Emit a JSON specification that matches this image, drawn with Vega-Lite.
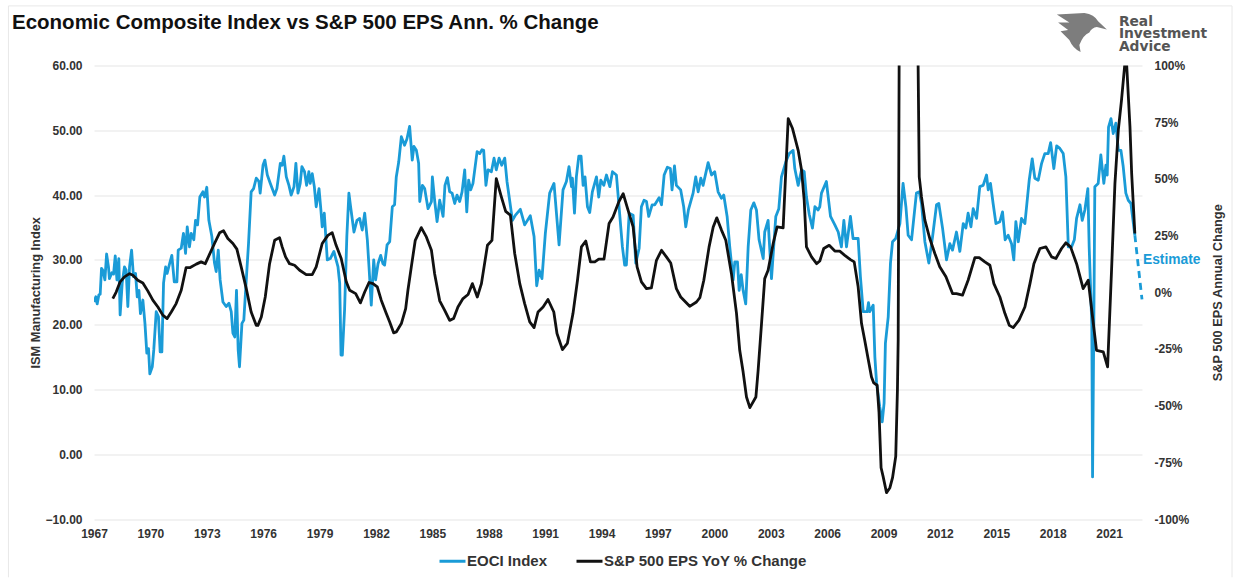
{"$schema":"https://vega.github.io/schema/vega-lite/v6.json","width":1048,"height":453.5,"autosize":{"type":"none"},"padding":{"left":94,"top":65.5,"right":98,"bottom":59},"background":"white","config":{"view":{"stroke":null},"font":"Liberation Sans"},
"title":{"text":"Economic Composite Index vs S&P 500 EPS Ann. % Change","anchor":"start","frame":"group","dx":-82,"offset":-28,"fontSize":20.5,"fontWeight":"bold","font":"Liberation Sans","color":"#111111"},
"datasets":{
"eoci":[{"year":1967.0,"value":23.5},{"year":1967.1,"value":24.3},{"year":1967.17,"value":23.2},{"year":1967.26,"value":24.6},{"year":1967.33,"value":24.7},{"year":1967.4,"value":28.7},{"year":1967.47,"value":28.4},{"year":1967.58,"value":26.9},{"year":1967.67,"value":30.9},{"year":1967.77,"value":28.9},{"year":1967.82,"value":27.1},{"year":1967.95,"value":28.0},{"year":1968.04,"value":27.8},{"year":1968.13,"value":30.6},{"year":1968.22,"value":26.9},{"year":1968.32,"value":30.2},{"year":1968.39,"value":21.5},{"year":1968.5,"value":26.4},{"year":1968.62,"value":28.9},{"year":1968.71,"value":28.4},{"year":1968.8,"value":22.8},{"year":1968.89,"value":28.9},{"year":1969.0,"value":31.5},{"year":1969.1,"value":27.4},{"year":1969.21,"value":27.9},{"year":1969.3,"value":24.3},{"year":1969.39,"value":25.3},{"year":1969.47,"value":21.7},{"year":1969.6,"value":23.8},{"year":1969.71,"value":20.2},{"year":1969.81,"value":15.6},{"year":1969.9,"value":16.3},{"year":1969.97,"value":12.4},{"year":1970.1,"value":13.5},{"year":1970.18,"value":16.1},{"year":1970.31,"value":22.0},{"year":1970.43,"value":21.2},{"year":1970.52,"value":15.8},{"year":1970.61,"value":15.8},{"year":1970.7,"value":26.4},{"year":1970.81,"value":28.9},{"year":1970.89,"value":27.9},{"year":1971.02,"value":29.4},{"year":1971.14,"value":30.7},{"year":1971.27,"value":26.6},{"year":1971.41,"value":26.6},{"year":1971.48,"value":31.5},{"year":1971.64,"value":31.8},{"year":1971.76,"value":34.1},{"year":1971.87,"value":31.0},{"year":1971.96,"value":35.1},{"year":1972.08,"value":32.0},{"year":1972.17,"value":34.1},{"year":1972.31,"value":33.1},{"year":1972.4,"value":36.1},{"year":1972.51,"value":35.4},{"year":1972.63,"value":39.7},{"year":1972.79,"value":40.5},{"year":1972.88,"value":39.7},{"year":1973.0,"value":41.2},{"year":1973.11,"value":36.1},{"year":1973.27,"value":33.6},{"year":1973.41,"value":29.5},{"year":1973.5,"value":28.2},{"year":1973.61,"value":31.5},{"year":1973.71,"value":26.9},{"year":1973.86,"value":23.5},{"year":1974.03,"value":22.8},{"year":1974.18,"value":23.3},{"year":1974.3,"value":22.0},{"year":1974.39,"value":18.7},{"year":1974.49,"value":18.1},{"year":1974.58,"value":25.3},{"year":1974.67,"value":16.1},{"year":1974.74,"value":13.5},{"year":1974.87,"value":20.2},{"year":1974.97,"value":20.7},{"year":1975.1,"value":26.9},{"year":1975.22,"value":32.5},{"year":1975.36,"value":40.5},{"year":1975.49,"value":41.0},{"year":1975.63,"value":42.6},{"year":1975.77,"value":42.1},{"year":1975.84,"value":40.3},{"year":1975.99,"value":44.6},{"year":1976.09,"value":45.4},{"year":1976.22,"value":43.1},{"year":1976.38,"value":41.8},{"year":1976.61,"value":40.0},{"year":1976.73,"value":41.0},{"year":1976.91,"value":44.9},{"year":1977.01,"value":44.6},{"year":1977.1,"value":46.0},{"year":1977.23,"value":42.8},{"year":1977.37,"value":41.5},{"year":1977.49,"value":40.0},{"year":1977.64,"value":41.3},{"year":1977.74,"value":44.9},{"year":1977.85,"value":40.3},{"year":1977.97,"value":41.8},{"year":1978.06,"value":44.4},{"year":1978.2,"value":43.6},{"year":1978.31,"value":41.5},{"year":1978.43,"value":43.6},{"year":1978.5,"value":41.8},{"year":1978.61,"value":43.3},{"year":1978.72,"value":41.3},{"year":1978.82,"value":38.2},{"year":1978.97,"value":41.0},{"year":1979.07,"value":37.7},{"year":1979.14,"value":35.1},{"year":1979.25,"value":37.2},{"year":1979.41,"value":30.0},{"year":1979.57,"value":30.2},{"year":1979.76,"value":31.3},{"year":1979.98,"value":28.9},{"year":1980.07,"value":26.4},{"year":1980.14,"value":15.3},{"year":1980.21,"value":15.3},{"year":1980.33,"value":22.3},{"year":1980.45,"value":33.6},{"year":1980.56,"value":40.3},{"year":1980.65,"value":38.2},{"year":1980.83,"value":34.3},{"year":1980.99,"value":36.1},{"year":1981.13,"value":36.4},{"year":1981.27,"value":34.6},{"year":1981.4,"value":37.2},{"year":1981.54,"value":33.1},{"year":1981.63,"value":28.9},{"year":1981.75,"value":23.0},{"year":1981.88,"value":30.0},{"year":1981.98,"value":26.9},{"year":1982.11,"value":29.4},{"year":1982.25,"value":30.7},{"year":1982.37,"value":29.4},{"year":1982.46,"value":29.2},{"year":1982.59,"value":32.3},{"year":1982.73,"value":32.8},{"year":1982.87,"value":38.2},{"year":1982.99,"value":38.5},{"year":1983.08,"value":42.8},{"year":1983.21,"value":45.1},{"year":1983.35,"value":49.0},{"year":1983.52,"value":47.7},{"year":1983.65,"value":48.7},{"year":1983.79,"value":50.6},{"year":1983.93,"value":45.4},{"year":1984.02,"value":47.5},{"year":1984.15,"value":46.9},{"year":1984.27,"value":44.9},{"year":1984.33,"value":39.0},{"year":1984.47,"value":41.5},{"year":1984.59,"value":41.0},{"year":1984.77,"value":37.9},{"year":1984.95,"value":39.0},{"year":1985.0,"value":42.8},{"year":1985.12,"value":39.2},{"year":1985.25,"value":35.9},{"year":1985.39,"value":39.2},{"year":1985.57,"value":36.7},{"year":1985.67,"value":41.5},{"year":1985.8,"value":42.7},{"year":1985.92,"value":40.5},{"year":1986.05,"value":40.3},{"year":1986.19,"value":38.7},{"year":1986.31,"value":40.0},{"year":1986.45,"value":39.0},{"year":1986.58,"value":40.5},{"year":1986.72,"value":43.9},{"year":1986.83,"value":37.4},{"year":1986.93,"value":42.3},{"year":1987.04,"value":40.8},{"year":1987.16,"value":41.8},{"year":1987.38,"value":46.7},{"year":1987.52,"value":46.4},{"year":1987.64,"value":47.0},{"year":1987.73,"value":46.9},{"year":1987.85,"value":41.5},{"year":1987.96,"value":43.9},{"year":1988.14,"value":43.6},{"year":1988.28,"value":45.7},{"year":1988.4,"value":43.9},{"year":1988.55,"value":45.7},{"year":1988.69,"value":44.6},{"year":1988.85,"value":45.7},{"year":1988.97,"value":42.1},{"year":1989.11,"value":39.2},{"year":1989.26,"value":36.1},{"year":1989.42,"value":36.9},{"year":1989.68,"value":37.8},{"year":1989.91,"value":35.4},{"year":1990.21,"value":36.8},{"year":1990.41,"value":33.6},{"year":1990.55,"value":26.0},{"year":1990.68,"value":28.4},{"year":1990.83,"value":27.1},{"year":1991.01,"value":34.1},{"year":1991.24,"value":40.3},{"year":1991.47,"value":41.8},{"year":1991.74,"value":32.3},{"year":1991.95,"value":40.8},{"year":1992.13,"value":42.1},{"year":1992.27,"value":44.4},{"year":1992.4,"value":41.3},{"year":1992.45,"value":42.6},{"year":1992.56,"value":37.2},{"year":1992.66,"value":42.8},{"year":1992.79,"value":46.0},{"year":1992.91,"value":46.0},{"year":1993.02,"value":41.5},{"year":1993.12,"value":42.8},{"year":1993.25,"value":38.2},{"year":1993.37,"value":37.3},{"year":1993.51,"value":40.5},{"year":1993.73,"value":42.8},{"year":1993.85,"value":39.7},{"year":1993.96,"value":42.3},{"year":1994.12,"value":41.5},{"year":1994.26,"value":43.1},{"year":1994.44,"value":41.3},{"year":1994.58,"value":43.6},{"year":1994.79,"value":43.1},{"year":1994.88,"value":40.0},{"year":1995.11,"value":32.0},{"year":1995.23,"value":29.2},{"year":1995.32,"value":29.2},{"year":1995.47,"value":37.2},{"year":1995.68,"value":36.9},{"year":1995.82,"value":29.5},{"year":1996.0,"value":31.8},{"year":1996.12,"value":38.2},{"year":1996.26,"value":39.2},{"year":1996.39,"value":39.0},{"year":1996.51,"value":36.7},{"year":1996.69,"value":38.5},{"year":1996.83,"value":38.5},{"year":1997.06,"value":39.6},{"year":1997.19,"value":38.5},{"year":1997.33,"value":43.1},{"year":1997.5,"value":44.3},{"year":1997.66,"value":44.1},{"year":1997.75,"value":40.8},{"year":1997.88,"value":44.5},{"year":1997.98,"value":41.5},{"year":1998.21,"value":40.8},{"year":1998.37,"value":38.2},{"year":1998.48,"value":35.1},{"year":1998.62,"value":37.7},{"year":1998.87,"value":40.3},{"year":1999.01,"value":42.8},{"year":1999.14,"value":40.5},{"year":1999.28,"value":42.6},{"year":1999.4,"value":41.5},{"year":1999.67,"value":45.0},{"year":1999.85,"value":43.1},{"year":2000.02,"value":43.6},{"year":2000.2,"value":40.5},{"year":2000.38,"value":39.5},{"year":2000.5,"value":40.0},{"year":2000.68,"value":36.7},{"year":2000.82,"value":32.0},{"year":2001.0,"value":26.9},{"year":2001.09,"value":29.7},{"year":2001.23,"value":29.7},{"year":2001.32,"value":25.3},{"year":2001.43,"value":27.7},{"year":2001.53,"value":25.3},{"year":2001.67,"value":23.2},{"year":2001.8,"value":32.0},{"year":2001.94,"value":37.7},{"year":2002.1,"value":38.8},{"year":2002.24,"value":37.7},{"year":2002.38,"value":33.1},{"year":2002.6,"value":30.2},{"year":2002.68,"value":34.3},{"year":2002.86,"value":36.1},{"year":2003.04,"value":27.1},{"year":2003.27,"value":36.7},{"year":2003.43,"value":37.9},{"year":2003.57,"value":42.8},{"year":2003.8,"value":45.1},{"year":2003.98,"value":46.4},{"year":2004.19,"value":46.9},{"year":2004.28,"value":44.1},{"year":2004.46,"value":41.5},{"year":2004.64,"value":43.9},{"year":2004.78,"value":43.6},{"year":2004.9,"value":39.7},{"year":2005.05,"value":37.0},{"year":2005.22,"value":34.9},{"year":2005.35,"value":38.2},{"year":2005.52,"value":37.7},{"year":2005.61,"value":38.2},{"year":2005.7,"value":40.3},{"year":2005.96,"value":42.1},{"year":2006.18,"value":36.7},{"year":2006.41,"value":35.4},{"year":2006.59,"value":34.3},{"year":2006.76,"value":32.0},{"year":2006.89,"value":36.1},{"year":2007.03,"value":32.0},{"year":2007.24,"value":36.7},{"year":2007.38,"value":33.3},{"year":2007.65,"value":33.3},{"year":2007.77,"value":27.4},{"year":2007.92,"value":22.0},{"year":2008.13,"value":22.0},{"year":2008.2,"value":23.4},{"year":2008.27,"value":22.0},{"year":2008.45,"value":23.0},{"year":2008.54,"value":15.0},{"year":2008.63,"value":11.0},{"year":2008.8,"value":7.3},{"year":2008.93,"value":5.0},{"year":2009.03,"value":7.9},{"year":2009.1,"value":17.1},{"year":2009.25,"value":21.2},{"year":2009.37,"value":29.5},{"year":2009.48,"value":32.8},{"year":2009.65,"value":33.3},{"year":2009.87,"value":35.6},{"year":2010.04,"value":41.8},{"year":2010.19,"value":38.2},{"year":2010.31,"value":33.8},{"year":2010.49,"value":33.1},{"year":2010.75,"value":40.3},{"year":2010.9,"value":40.5},{"year":2011.02,"value":38.7},{"year":2011.2,"value":32.8},{"year":2011.41,"value":29.5},{"year":2011.61,"value":33.6},{"year":2011.82,"value":38.5},{"year":2011.94,"value":38.7},{"year":2012.14,"value":34.9},{"year":2012.35,"value":30.0},{"year":2012.53,"value":32.5},{"year":2012.67,"value":31.5},{"year":2012.88,"value":34.3},{"year":2013.06,"value":31.3},{"year":2013.24,"value":35.6},{"year":2013.38,"value":34.9},{"year":2013.5,"value":37.2},{"year":2013.65,"value":35.1},{"year":2013.77,"value":37.9},{"year":2013.95,"value":36.4},{"year":2014.12,"value":41.3},{"year":2014.3,"value":41.5},{"year":2014.48,"value":43.1},{"year":2014.57,"value":40.8},{"year":2014.69,"value":41.8},{"year":2014.83,"value":38.7},{"year":2014.98,"value":35.6},{"year":2015.19,"value":35.9},{"year":2015.33,"value":37.4},{"year":2015.47,"value":33.1},{"year":2015.63,"value":33.8},{"year":2015.81,"value":32.5},{"year":2015.93,"value":30.0},{"year":2016.04,"value":35.9},{"year":2016.17,"value":32.8},{"year":2016.34,"value":36.4},{"year":2016.52,"value":35.6},{"year":2016.75,"value":42.3},{"year":2016.91,"value":45.6},{"year":2017.05,"value":42.6},{"year":2017.23,"value":42.3},{"year":2017.41,"value":44.9},{"year":2017.58,"value":46.4},{"year":2017.76,"value":46.4},{"year":2017.89,"value":48.1},{"year":2018.06,"value":44.1},{"year":2018.21,"value":47.6},{"year":2018.38,"value":47.2},{"year":2018.56,"value":46.4},{"year":2018.7,"value":42.8},{"year":2018.83,"value":32.0},{"year":2019.0,"value":32.0},{"year":2019.15,"value":33.1},{"year":2019.27,"value":36.4},{"year":2019.45,"value":38.5},{"year":2019.57,"value":36.1},{"year":2019.71,"value":37.7},{"year":2019.87,"value":41.0},{"year":2019.94,"value":32.0},{"year":2020.08,"value":20.0},{"year":2020.12,"value":-3.5},{"year":2020.2,"value":25.0},{"year":2020.24,"value":41.3},{"year":2020.42,"value":41.8},{"year":2020.56,"value":46.2},{"year":2020.72,"value":41.8},{"year":2020.83,"value":44.6},{"year":2020.9,"value":43.1},{"year":2020.97,"value":50.5},{"year":2021.1,"value":51.8},{"year":2021.22,"value":49.5},{"year":2021.36,"value":51.1},{"year":2021.49,"value":46.9},{"year":2021.63,"value":46.9},{"year":2021.75,"value":44.4},{"year":2021.89,"value":40.3},{"year":2022.02,"value":39.2},{"year":2022.16,"value":38.7},{"year":2022.37,"value":33.8}],
"eps":[{"year":1968.0,"pct":-2.8},{"year":1968.18,"pct":0.1},{"year":1968.39,"pct":4.6},{"year":1968.62,"pct":6.8},{"year":1968.89,"pct":8.2},{"year":1969.07,"pct":7.5},{"year":1969.33,"pct":5.3},{"year":1969.6,"pct":4.1},{"year":1969.86,"pct":0.6},{"year":1970.13,"pct":-3.5},{"year":1970.4,"pct":-6.5},{"year":1970.66,"pct":-10.1},{"year":1970.89,"pct":-11.6},{"year":1971.11,"pct":-8.7},{"year":1971.37,"pct":-5.0},{"year":1971.64,"pct":0.9},{"year":1971.9,"pct":10.9},{"year":1972.12,"pct":10.9},{"year":1972.44,"pct":12.4},{"year":1972.7,"pct":13.4},{"year":1972.92,"pct":12.6},{"year":1973.15,"pct":16.8},{"year":1973.41,"pct":21.5},{"year":1973.68,"pct":26.2},{"year":1973.89,"pct":27.1},{"year":1974.12,"pct":23.7},{"year":1974.39,"pct":21.5},{"year":1974.6,"pct":19.0},{"year":1974.83,"pct":11.2},{"year":1975.1,"pct":1.6},{"year":1975.36,"pct":-8.7},{"year":1975.63,"pct":-14.6},{"year":1975.72,"pct":-14.6},{"year":1975.9,"pct":-10.9},{"year":1976.11,"pct":-2.1},{"year":1976.34,"pct":12.6},{"year":1976.61,"pct":22.9},{"year":1976.87,"pct":24.1},{"year":1977.01,"pct":20.0},{"year":1977.19,"pct":15.6},{"year":1977.4,"pct":12.6},{"year":1977.67,"pct":11.9},{"year":1977.94,"pct":9.7},{"year":1978.29,"pct":7.8},{"year":1978.61,"pct":7.8},{"year":1978.82,"pct":11.2},{"year":1979.14,"pct":21.5},{"year":1979.44,"pct":25.1},{"year":1979.67,"pct":26.3},{"year":1979.88,"pct":20.7},{"year":1980.15,"pct":14.9},{"year":1980.42,"pct":4.6},{"year":1980.6,"pct":0.9},{"year":1980.92,"pct":-0.6},{"year":1981.17,"pct":-4.7},{"year":1981.4,"pct":0.1},{"year":1981.63,"pct":4.3},{"year":1981.84,"pct":3.8},{"year":1982.07,"pct":2.4},{"year":1982.28,"pct":-3.5},{"year":1982.55,"pct":-9.4},{"year":1982.73,"pct":-13.1},{"year":1982.94,"pct":-17.9},{"year":1983.08,"pct":-17.5},{"year":1983.35,"pct":-13.8},{"year":1983.58,"pct":-7.2},{"year":1983.7,"pct":0.9},{"year":1983.88,"pct":11.2},{"year":1984.09,"pct":22.9},{"year":1984.41,"pct":28.5},{"year":1984.68,"pct":24.4},{"year":1984.95,"pct":18.5},{"year":1985.12,"pct":8.2},{"year":1985.39,"pct":-3.8},{"year":1985.65,"pct":-7.9},{"year":1985.92,"pct":-12.4},{"year":1986.13,"pct":-11.6},{"year":1986.36,"pct":-6.5},{"year":1986.63,"pct":-2.8},{"year":1986.9,"pct":-1.0},{"year":1987.13,"pct":3.8},{"year":1987.39,"pct":-2.1},{"year":1987.61,"pct":3.8},{"year":1987.93,"pct":20.7},{"year":1988.17,"pct":22.9},{"year":1988.4,"pct":50.1},{"year":1988.67,"pct":42.1},{"year":1988.9,"pct":35.7},{"year":1989.15,"pct":34.0},{"year":1989.38,"pct":17.1},{"year":1989.65,"pct":3.8},{"year":1989.91,"pct":-5.0},{"year":1990.18,"pct":-13.1},{"year":1990.41,"pct":-15.6},{"year":1990.62,"pct":-8.7},{"year":1990.89,"pct":-6.5},{"year":1991.15,"pct":-3.2},{"year":1991.46,"pct":-8.7},{"year":1991.63,"pct":-18.2},{"year":1991.92,"pct":-25.3},{"year":1992.18,"pct":-22.6},{"year":1992.48,"pct":-9.4},{"year":1992.72,"pct":5.3},{"year":1992.93,"pct":20.0},{"year":1993.16,"pct":22.6},{"year":1993.41,"pct":13.4},{"year":1993.64,"pct":13.4},{"year":1993.85,"pct":14.6},{"year":1994.13,"pct":14.6},{"year":1994.4,"pct":30.3},{"year":1994.61,"pct":33.2},{"year":1994.92,"pct":39.9},{"year":1995.15,"pct":43.5},{"year":1995.41,"pct":36.2},{"year":1995.68,"pct":28.8},{"year":1995.89,"pct":11.2},{"year":1996.12,"pct":4.6},{"year":1996.39,"pct":1.6},{"year":1996.65,"pct":1.9},{"year":1996.92,"pct":14.1},{"year":1997.19,"pct":18.5},{"year":1997.45,"pct":15.6},{"year":1997.68,"pct":12.9},{"year":1997.98,"pct":1.6},{"year":1998.21,"pct":-2.1},{"year":1998.69,"pct":-6.2},{"year":1999.05,"pct":-4.3},{"year":1999.23,"pct":-2.4},{"year":1999.44,"pct":5.3},{"year":1999.72,"pct":20.0},{"year":1999.94,"pct":28.8},{"year":2000.13,"pct":32.8},{"year":2000.38,"pct":27.4},{"year":2000.61,"pct":22.9},{"year":2000.91,"pct":8.2},{"year":2001.18,"pct":-9.4},{"year":2001.35,"pct":-25.6},{"year":2001.53,"pct":-35.1},{"year":2001.71,"pct":-46.2},{"year":2001.89,"pct":-50.9},{"year":2002.21,"pct":-46.2},{"year":2002.33,"pct":-34.4},{"year":2002.51,"pct":-13.8},{"year":2002.68,"pct":6.0},{"year":2002.86,"pct":9.7},{"year":2003.13,"pct":21.5},{"year":2003.34,"pct":28.8},{"year":2003.66,"pct":28.4},{"year":2003.93,"pct":76.6},{"year":2004.16,"pct":72.2},{"year":2004.46,"pct":62.6},{"year":2004.64,"pct":53.8},{"year":2004.78,"pct":40.6},{"year":2004.9,"pct":20.0},{"year":2005.17,"pct":15.6},{"year":2005.44,"pct":12.6},{"year":2005.61,"pct":13.8},{"year":2005.82,"pct":19.3},{"year":2006.11,"pct":20.7},{"year":2006.41,"pct":18.2},{"year":2006.67,"pct":18.1},{"year":2006.94,"pct":16.3},{"year":2007.24,"pct":14.4},{"year":2007.44,"pct":13.4},{"year":2007.65,"pct":2.4},{"year":2007.83,"pct":-13.8},{"year":2008.0,"pct":-21.2},{"year":2008.18,"pct":-29.3},{"year":2008.36,"pct":-37.4},{"year":2008.48,"pct":-40.0},{"year":2008.66,"pct":-41.0},{"year":2008.76,"pct":-53.0},{"year":2008.87,"pct":-77.4},{"year":2008.98,"pct":-81.3},{"year":2009.16,"pct":-88.4},{"year":2009.34,"pct":-86.2},{"year":2009.48,"pct":-81.8},{"year":2009.65,"pct":-72.4},{"year":2009.74,"pct":-43.0},{"year":2009.78,"pct":-21.0},{"year":2009.83,"pct":100.0},{"year":2009.95,"pct":180.0},{"year":2010.7,"pct":180.0},{"year":2010.84,"pct":100.0},{"year":2010.9,"pct":50.9},{"year":2011.02,"pct":42.0},{"year":2011.2,"pct":31.8},{"year":2011.46,"pct":23.7},{"year":2011.73,"pct":17.1},{"year":2011.99,"pct":11.2},{"year":2012.32,"pct":6.8},{"year":2012.67,"pct":-0.6},{"year":2012.88,"pct":-0.6},{"year":2013.2,"pct":-1.3},{"year":2013.5,"pct":5.3},{"year":2013.86,"pct":15.3},{"year":2014.09,"pct":15.3},{"year":2014.39,"pct":13.4},{"year":2014.66,"pct":11.9},{"year":2014.87,"pct":3.8},{"year":2015.19,"pct":-2.1},{"year":2015.46,"pct":-9.4},{"year":2015.69,"pct":-14.6},{"year":2015.9,"pct":-15.6},{"year":2016.2,"pct":-12.4},{"year":2016.52,"pct":-6.5},{"year":2016.79,"pct":3.8},{"year":2017.0,"pct":12.6},{"year":2017.32,"pct":19.3},{"year":2017.64,"pct":20.0},{"year":2017.94,"pct":15.6},{"year":2018.17,"pct":14.9},{"year":2018.47,"pct":19.3},{"year":2018.7,"pct":21.8},{"year":2018.95,"pct":20.0},{"year":2019.27,"pct":12.6},{"year":2019.62,"pct":1.6},{"year":2019.89,"pct":5.3},{"year":2020.12,"pct":-10.9},{"year":2020.33,"pct":-25.6},{"year":2020.69,"pct":-26.3},{"year":2020.92,"pct":-32.9},{"year":2021.13,"pct":9.7},{"year":2021.31,"pct":47.9},{"year":2021.49,"pct":71.5},{"year":2021.66,"pct":84.7},{"year":2021.84,"pct":101.0},{"year":2021.93,"pct":101.0},{"year":2022.11,"pct":72.9},{"year":2022.2,"pct":52.4},{"year":2022.37,"pct":25.9}],
"est":[{"year":2022.37,"value":33.8},{"year":2022.75,"value":23.9}],
"frame":[{"x":1962.45,"x2":1962.45,"y":69.2,"y2":-19},{"x":1962.45,"x2":2027.54,"y":69.2,"y2":69.2},{"x":2027.54,"x2":2027.54,"y":69.2,"y2":-19}],
"logo":[{"year":2021.52,"value":66.7,"label":"Real"},{"year":2021.52,"value":64.8,"label":"Investment"},{"year":2021.52,"value":62.9,"label":"Advice"}],
"eagle":[{"year":2019.55,"value":65.1}],
"note":[{"year":2022.8,"value":30.05,"label":"Estimate"}]
},
"layer":[
{"data":{"name":"frame"},"mark":{"type":"rule","color":"#e8e8e8","strokeWidth":1},"encoding":{"x":{"field":"x","type":"quantitative","scale":{"domain":[1967,2022.75]},"axis":{"values":[1967,1970,1973,1976,1979,1982,1985,1988,1991,1994,1997,2000,2003,2006,2009,2012,2015,2018,2021],"format":"d","title":null,"domain":false,"ticks":false,"grid":false,"labelFont":"Liberation Sans","labelFontWeight":"bold","labelFontSize":12,"labelColor":"#333333","labelPadding":9,"labelFlush":false,"labelOverlap":false}},"x2":{"field":"x2"},"y":{"field":"y","type":"quantitative","scale":{"domain":[-10,60]},"axis":{"values":[-10,0,10,20,30,40,50,60],"format":".2f","title":"ISM Manufacturing Index","titleFont":"Liberation Sans","titleFontSize":12.8,"titleFontWeight":"bold","titleColor":"#333333","titlePadding":2,"domain":false,"ticks":false,"grid":true,"gridColor":"#e6e6e6","gridWidth":1.2,"labelFont":"Liberation Sans","labelFontWeight":"bold","labelFontSize":12,"labelColor":"#333333","labelPadding":12}},"y2":{"field":"y2"}}},
{"data":{"name":"eoci"},"mark":{"type":"line","strokeWidth":2.8,"clip":true,"strokeJoin":"round"},"encoding":{"x":{"field":"year","type":"quantitative","scale":{"domain":[1967,2022.75]}},"y":{"field":"value","type":"quantitative","scale":{"domain":[-10,60]},"axis":null},"color":{"datum":"EOCI Index","type":"nominal","scale":{"domain":["EOCI Index","S&P 500 EPS YoY % Change"],"range":["#1a9bd7","#111111"]},"legend":{"orient":"none","legendX":344,"legendY":481,"direction":"horizontal","title":null,"symbolType":"stroke","symbolSize":676,"symbolStrokeWidth":3,"labelFont":"Liberation Sans","labelFontWeight":"bold","labelFontSize":15,"labelColor":"#333333","labelOffset":0,"labelLimit":400,"columnPadding":22}}}},
{"data":{"name":"est"},"mark":{"type":"line","strokeWidth":2.8,"color":"#1a9bd7","strokeDash":[7,5],"clip":false},"encoding":{"x":{"field":"year","type":"quantitative","scale":{"domain":[1967,2022.75]}},"y":{"field":"value","type":"quantitative","scale":{"domain":[-10,60]},"axis":null}}},
{"data":{"name":"eps"},"mark":{"type":"line","strokeWidth":2.8,"clip":true,"strokeJoin":"round"},"encoding":{"x":{"field":"year","type":"quantitative","scale":{"domain":[1967,2022.75]}},"y":{"field":"pct","type":"quantitative","scale":{"domain":[-100,100]},"axis":{"orient":"right","values":[-100,-75,-50,-25,0,25,50,75,100],"labelExpr":"datum.value + '%'","title":"S&P 500 EPS Annual Change","titleFont":"Liberation Sans","titleFontSize":12.8,"titleFontWeight":"bold","titleColor":"#333333","titleAngle":270,"titlePadding":36,"domain":false,"ticks":false,"grid":false,"labelFont":"Liberation Sans","labelFontWeight":"bold","labelFontSize":12,"labelColor":"#333333","labelPadding":12}},"color":{"datum":"S&P 500 EPS YoY % Change","type":"nominal"}}},
{"data":{"name":"note"},"mark":{"type":"text","align":"left","baseline":"middle","fontSize":13.8,"fontWeight":"bold","font":"Liberation Sans","color":"#1a9bd7"},"encoding":{"x":{"field":"year","type":"quantitative","scale":{"domain":[1967,2022.75]}},"y":{"field":"value","type":"quantitative","scale":{"domain":[-10,60]},"axis":null},"text":{"field":"label"}}},
{"data":{"name":"eagle"},"mark":{"type":"point","filled":true,"color":"#7d7d7d","opacity":1,"size":2500,"shape":"M-1,-0.72 L0.1,-0.78 Q0.5,-0.72 0.65,-0.45 L1,-0.12 L0.6,-0.22 Q0.4,-0.2 0.3,0 Q0.05,0.1 -0.1,0.5 L-0.05,0.78 Q-0.35,0.65 -0.5,0.3 L-0.85,-0.05 L-0.55,-0.1 L-0.95,-0.4 L-0.5,-0.4 Z"},"encoding":{"x":{"field":"year","type":"quantitative","scale":{"domain":[1967,2022.75]}},"y":{"field":"value","type":"quantitative","scale":{"domain":[-10,60]},"axis":null}}},
{"data":{"name":"logo"},"mark":{"type":"text","align":"left","baseline":"middle","fontSize":13.8,"fontWeight":"bold","font":"DejaVu Sans","color":"#555555"},"encoding":{"x":{"field":"year","type":"quantitative","scale":{"domain":[1967,2022.75]}},"y":{"field":"value","type":"quantitative","scale":{"domain":[-10,60]},"axis":null},"text":{"field":"label"}}}
],
"resolve":{"scale":{"y":"independent"}}}
